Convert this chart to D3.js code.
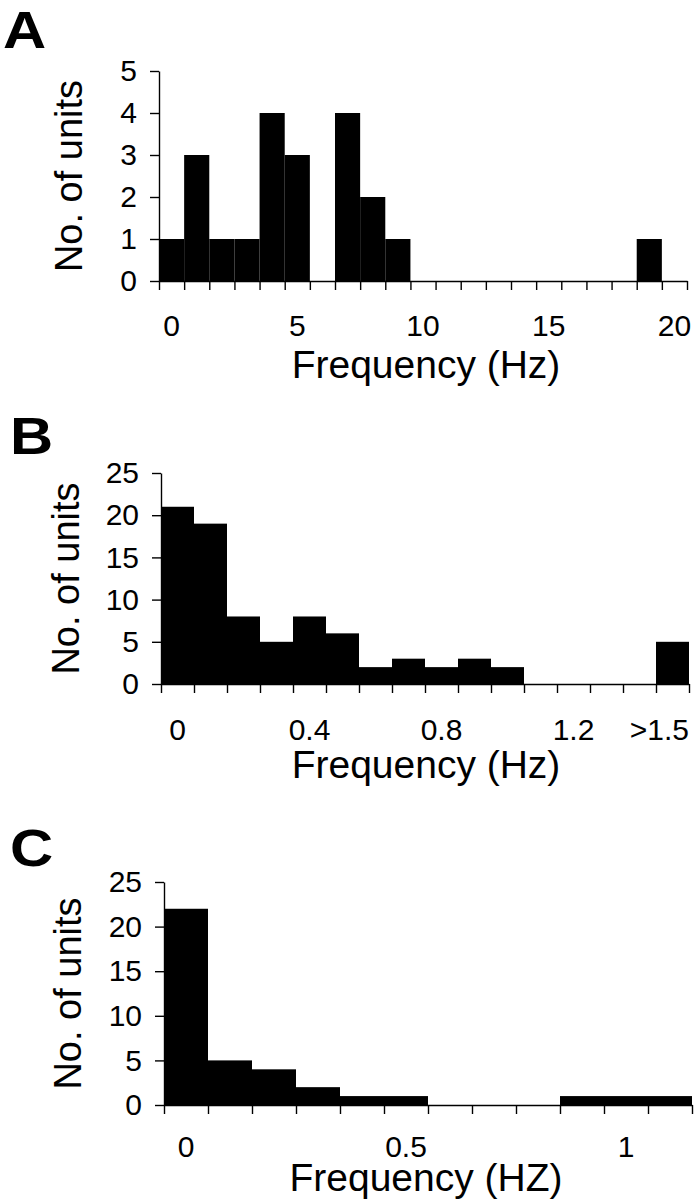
<!DOCTYPE html>
<meta charset="utf-8">
<head>
    <script src="https://d3js.org/d3.v7.min.js"></script>
    <style>
    body { margin: 0; background: white; }
    svg { display: block; }
    .axis path, .axis line { stroke: #000; stroke-width: 1.4px; }
    .axis text { font-family: "Liberation Sans", Arial, sans-serif; font-size: 30px; fill: #000; }
    .ylab { font-family: "Liberation Sans", Arial, sans-serif; font-size: 38px; }
    .xlab { font-family: "Liberation Sans", Arial, sans-serif; font-size: 39px; }
    .panel { font-family: "Liberation Sans", Arial, sans-serif; font-size: 52px; font-weight: bold; }
    </style>
</head>
<body>
<svg id="fig"></svg>
<script>

// panel A: firing frequency, 1 Hz bins
var catsA = ["0","1","2","3","4","5","6","7","8","9","10","11","12","13","14","15","16","17","18","19","20"];
var countsA = [1,3,1,1,4,3,0,4,2,1,0,0,0,0,0,0,0,0,0,1,0];
var labelsA = ["0","5","10","15","20"];

// panel B: 0.1 Hz bins plus overflow bin
var catsB = ["0","0.1","0.2","0.3","0.4","0.5","0.6","0.7","0.8","0.9","1","1.1","1.2","1.3","1.4",">1.5"];
var countsB = [21,19,8,5,8,6,2,3,2,3,2,0,0,0,0,5];
var labelsB = ["0","0.4","0.8","1.2",">1.5"];

// panel C: 0.1 Hz bins
var catsC = ["0","0.1","0.2","0.3","0.4","0.5","0.6","0.7","0.8","0.9","1","1.1"];
var countsC = [22,5,4,2,1,1,0,0,0,1,1,1];
var labelsC = ["0","0.5","1"];

var svg = d3.select("#fig").attr("width", 698).attr("height", 1200);

function drawPanel(p) {
    var x = d3.scaleBand().domain(p.cats).range([p.x0, p.x1]).padding(0);
    var xi = d3.scaleLinear().domain([0, p.cats.length]).range([p.x0, p.x1]);
    var y = d3.scaleLinear().domain([0, p.ymax]).range([p.y0, p.y1]);

    var g = svg.append("g");

    // bars
    g.selectAll("rect")
        .data(p.cats.map(function(c, i) { return {c: c, v: p.counts[i]}; }).filter(function(d) { return d.v > 0; }))
        .enter().append("rect")
        .attr("x", function(d) { return x(d.c); })
        .attr("width", x.bandwidth())
        .attr("y", function(d) { return y(d.v); })
        .attr("height", function(d) { return y(0) - y(d.v); })
        .attr("fill", "#000");

    // y axis
    g.append("g")
        .attr("class", "axis")
        .attr("transform", "translate(" + p.x0 + ",0)")
        .call(d3.axisLeft(y).ticks(5).tickFormat(d3.format("d")).tickSize(9).tickSizeOuter(0).tickPadding(13));

    // x axis, ticks on bin edges
    g.append("g")
        .attr("class", "axis")
        .attr("transform", "translate(0," + p.y0 + ")")
        .call(d3.axisBottom(xi).tickValues(d3.range(p.cats.length + 1)).tickFormat("").tickSize(9).tickSizeOuter(0));

    // x labels centred on bins, baseline at labY
    var lab = g.append("g")
        .attr("class", "axis")
        .attr("transform", "translate(0," + p.labY + ")")
        .call(d3.axisBottom(x).tickValues(p.labels).tickSize(0).tickPadding(0));
    lab.select(".domain").remove();
    lab.selectAll("text").attr("dy", 0).attr("y", 0);
    // overflow label sits flush with the axis end
    lab.selectAll("text").filter(function(d) { return d === ">1.5"; })
        .attr("text-anchor", "end")
        .attr("x", x.bandwidth() / 2);

    g.append("text")
        .attr("class", "ylab")
        .attr("transform", "translate(" + p.ylabX + "," + ((p.y0 + p.y1) / 2) + ") rotate(-90)")
        .attr("text-anchor", "middle")
        .text("No. of units");

    g.append("text")
        .attr("class", "xlab")
        .attr("x", 426)
        .attr("y", p.xlabY)
        .attr("text-anchor", "middle")
        .text(p.xtitle);

    // panel letter, a little wider than the font
    g.append("text")
        .attr("class", "panel")
        .attr("transform", "translate(" + p.letX + "," + p.letY + ") scale(1.15,1)")
        .text(p.letter);
}

drawPanel({cats: catsA, counts: countsA, labels: labelsA, ymax: 5,
    x0: 159, x1: 687, y0: 281, y1: 71, labY: 336,
    ylabX: 82, xlabY: 378, xtitle: "Frequency (Hz)", letter: "A", letX: 3, letY: 48});

drawPanel({cats: catsB, counts: countsB, labels: labelsB, ymax: 25,
    x0: 161, x1: 689, y0: 684, y1: 473, labY: 740,
    ylabX: 79, xlabY: 778, xtitle: "Frequency (Hz)", letter: "B", letX: 10, letY: 454});

drawPanel({cats: catsC, counts: countsC, labels: labelsC, ymax: 25,
    x0: 164, x1: 692, y0: 1105, y1: 882, labY: 1157,
    ylabX: 81, xlabY: 1191, xtitle: "Frequency (HZ)", letter: "C", letX: 10, letY: 866});

</script>
</body>
